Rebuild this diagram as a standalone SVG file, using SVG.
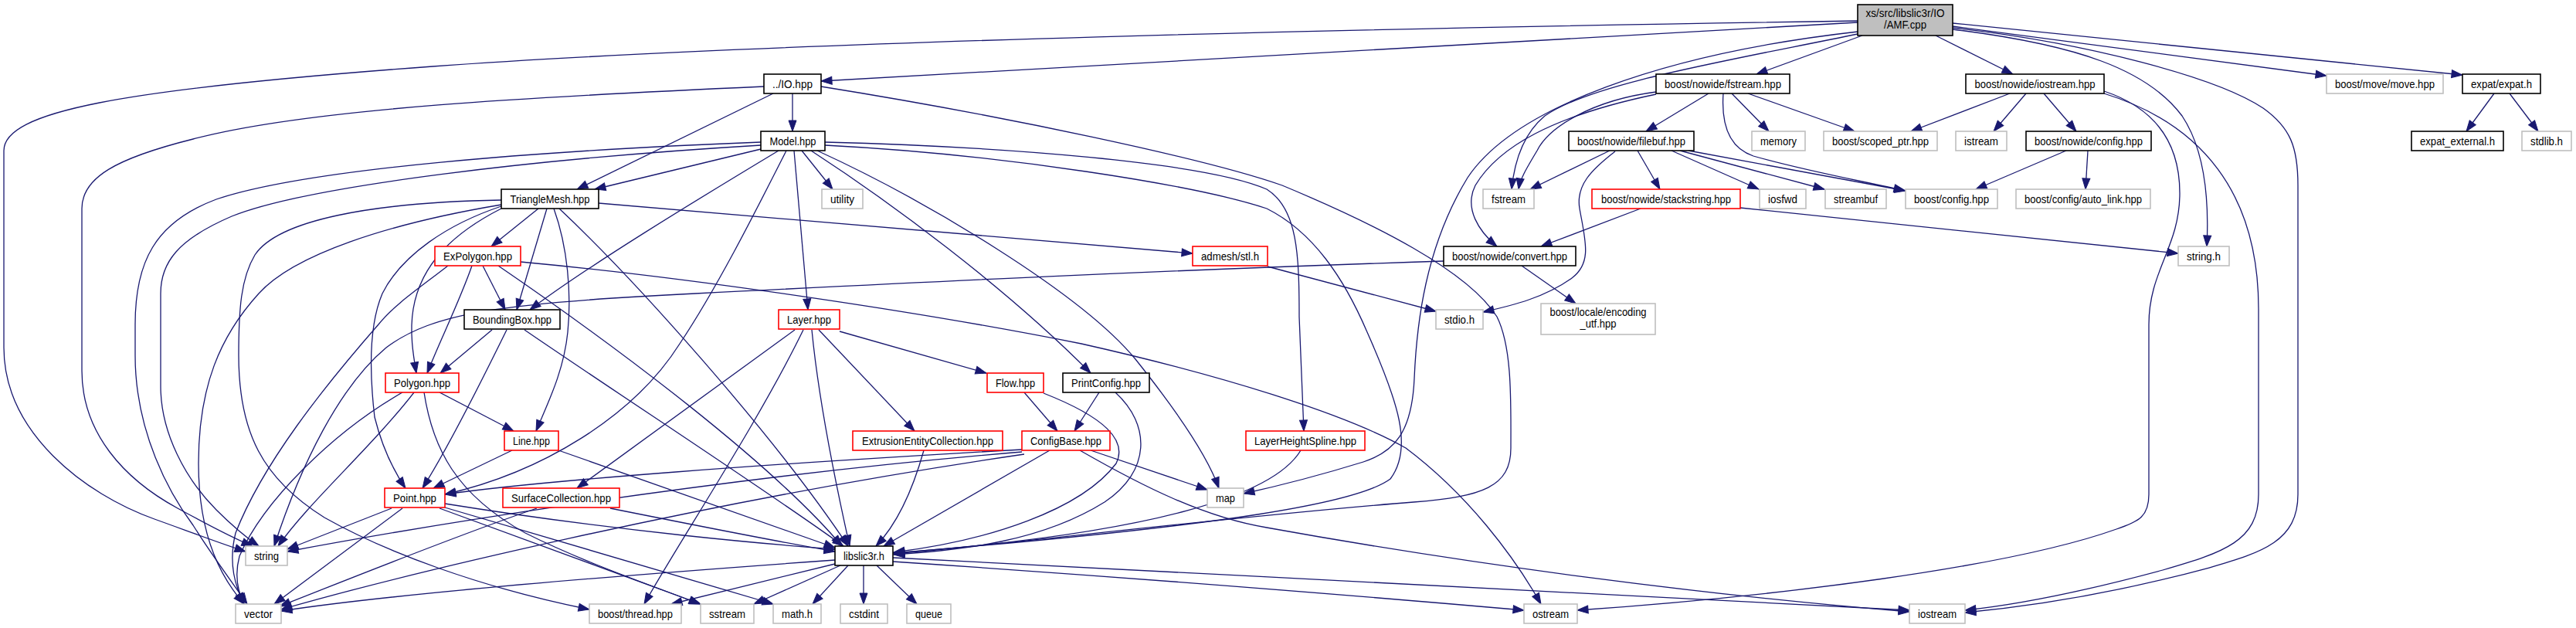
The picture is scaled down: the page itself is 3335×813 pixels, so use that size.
<svg xmlns="http://www.w3.org/2000/svg" width="3335" height="813" viewBox="0 0 3335 813">
<style>
.n rect{fill:#fff;stroke-width:1.6}
.b rect{stroke:#000}
.r rect{stroke:#ff0000}
.g rect{stroke:#bfbfbf}
.root rect{fill:#bfbfbf;stroke:#000}
text{font-family:"Liberation Sans",Arial,sans-serif;font-size:15px;text-anchor:middle;fill:#000}
#edges path{fill:none;stroke:#191970;stroke-width:1.3;marker-end:url(#a)}
</style>
<defs>
<marker id="a" markerUnits="userSpaceOnUse" markerWidth="14" markerHeight="10" refX="14" refY="5" orient="auto" overflow="visible"><path d="M0,0 L14,5 L0,10 z" fill="#191970" stroke="#191970" stroke-width="1"/></marker>
</defs>
<rect width="3335" height="813" fill="#fff"/>
<g id="edges">
<path d="M2405,29 L1063,105"/>
<path d="M2405,27 C1800,36 1000,54 560,86 C150,116 5,145 5,195 L5,450 C5,560 110,640 200,672 C250,690 290,705 318,714"/>
<path d="M2411,46 L2274,96"/>
<path d="M2506,46 L2606,96"/>
<path d="M2528,34 L3012,98"/>
<path d="M2528,30 L3188,97"/>
<path d="M2528,38 C2690,58 2780,90 2825,150 C2855,195 2860,260 2857,319"/>
<path d="M2528,36 C2700,55 2870,100 2930,140 C2965,165 2975,190 2975,240 L2975,640 C2975,700 2930,715 2860,735 C2760,762 2650,783 2544,793"/>
<path d="M2405,41 C2150,70 1960,140 1900,230 C1845,320 1834,420 1831,490 C1828,560 1805,585 1765,598 C1710,615 1660,628 1610,639"/>
<path d="M2405,44 C2230,80 2060,108 2000,150 C1970,175 1960,215 1957,245"/>
<path d="M1026,121 L1026,170"/>
<path d="M1001,121 L747,245"/>
<path d="M1063,112 C1300,150 1560,205 1660,240 C1780,290 1900,350 1938,410 C1958,450 1956,520 1956,580 C1956,630 1920,643 1830,650 C1600,668 1300,705 1157,717"/>
<path d="M989,112 C700,125 400,140 250,180 C150,205 106,230 106,270 L106,480 C106,560 160,620 230,658 C270,680 305,698 327,707"/>
<path d="M985,193 L770,245"/>
<path d="M985,184 C700,195 400,218 280,258 C200,288 175,340 175,420 L175,460 C175,560 220,640 250,680 C275,720 305,760 320,782"/>
<path d="M985,188 C700,205 400,240 300,280 C230,310 208,340 208,380 L208,500 C208,560 240,620 280,660 C305,685 322,698 335,707"/>
<path d="M1008,195 C900,260 760,345 686,401"/>
<path d="M1018,195 C980,270 930,370 880,445 C820,540 700,612 576,640"/>
<path d="M1028,195 L1046,401"/>
<path d="M1038,195 L1078,245"/>
<path d="M1050,195 C1150,260 1300,370 1412,483"/>
<path d="M1058,195 C1200,260 1400,380 1470,465 C1530,540 1565,595 1578,632"/>
<path d="M1068,184 C1300,190 1560,210 1640,245 C1680,270 1682,330 1682,410 L1688,558"/>
<path d="M1068,188 C1300,200 1550,240 1640,270 C1700,300 1740,360 1770,430 C1810,520 1830,580 1800,620 C1760,650 1600,680 1157,716"/>
<path d="M697,270 L636,319"/>
<path d="M708,270 L669,401"/>
<path d="M717,270 C735,320 740,380 735,430 C730,480 710,520 694,558"/>
<path d="M724,270 C820,360 1000,560 1098,707"/>
<path d="M775,263 L1544,328"/>
<path d="M649,259 C480,262 360,285 330,330 C312,360 309,400 309,460 C309,560 340,620 420,670 C500,715 620,760 763,789"/>
<path d="M649,265 C500,290 380,330 335,380 C285,435 257,500 257,600 C257,700 290,752 316,782"/>
<path d="M649,267 C580,290 520,330 495,380 C478,420 478,480 485,540 C495,580 510,610 525,632"/>
<path d="M649,270 C590,300 545,340 535,400 C530,430 535,460 539,483"/>
<path d="M611,344 C595,390 570,440 553,483"/>
<path d="M625,344 L654,401"/>
<path d="M645,344 C800,450 1000,600 1090,707"/>
<path d="M580,344 C540,375 510,395 490,420 C420,500 340,600 305,690 C295,730 305,760 316,782"/>
<path d="M674,339 C900,360 1200,405 1400,445 C1600,490 1750,540 1820,580 C1900,640 1960,720 1995,782"/>
<path d="M637,427 L570,483"/>
<path d="M656,427 C630,480 580,580 547,632"/>
<path d="M679,427 C800,510 1000,640 1092,707"/>
<path d="M1029,427 L747,632"/>
<path d="M1040,427 C980,550 880,700 834,782"/>
<path d="M1051,427 C1060,520 1085,640 1100,707"/>
<path d="M1060,427 L1184,558"/>
<path d="M1087,429 L1277,483"/>
<path d="M1326,508 L1369,558"/>
<path d="M1351,509 C1430,540 1460,570 1445,600 C1400,660 1280,700 1157,715"/>
<path d="M1423,508 L1391,558"/>
<path d="M1444,508 C1490,550 1490,610 1430,650 C1350,700 1250,712 1157,718"/>
<path d="M1196,583 C1180,640 1160,680 1134,707"/>
<path d="M1359,583 L1144,707"/>
<path d="M1412,583 L1563,634"/>
<path d="M1323,582 C1000,600 700,622 576,640"/>
<path d="M1323,585 C900,620 500,690 372,714"/>
<path d="M1326,588 C900,650 500,750 364,789"/>
<path d="M1398,583 C1480,630 1560,670 1640,683 C1900,730 2200,770 2472,792"/>
<path d="M1684,583 C1650,640 1500,690 1157,716"/>
<path d="M790,658 C900,680 1000,700 1081,714"/>
<path d="M695,658 C600,690 450,750 362,785"/>
<path d="M569,508 L665,558"/>
<path d="M536,508 C480,580 400,650 360,707"/>
<path d="M521,508 C430,560 340,650 310,720 C302,750 310,770 316,782"/>
<path d="M549,508 C560,580 590,640 680,690 C760,730 850,760 906,782"/>
<path d="M663,583 L561,632"/>
<path d="M723,583 L1081,709"/>
<path d="M576,652 C800,688 1000,705 1081,711"/>
<path d="M576,657 L1001,782"/>
<path d="M569,658 L907,782"/>
<path d="M507,658 L372,711"/>
<path d="M521,658 L355,782"/>
<path d="M1081,725 C800,745 500,770 364,791"/>
<path d="M1081,730 L869,782"/>
<path d="M1088,732 L976,782"/>
<path d="M1098,732 L1052,782"/>
<path d="M1118,732 L1118,782"/>
<path d="M1135,732 L1187,782"/>
<path d="M1156,722 C1600,745 2200,775 2472,790"/>
<path d="M1156,727 C1500,750 1800,775 1973,790"/>
<path d="M2212,121 L2131,170"/>
<path d="M2242,121 L2290,170"/>
<path d="M2263,121 L2401,170"/>
<path d="M2231,121 C2228,165 2240,192 2270,202 C2340,222 2420,236 2466,247"/>
<path d="M2144,119 C2060,130 2005,165 1990,195 C1975,220 1968,232 1966,245"/>
<path d="M2144,122 C2010,150 1940,190 1910,240 C1895,270 1915,300 1938,319"/>
<path d="M2084,195 L1981,245"/>
<path d="M2120,195 L2149,245"/>
<path d="M2091,196 C2060,220 2040,240 2045,270 C2052,310 2062,340 2035,360 C2000,385 1960,395 1920,404"/>
<path d="M2164,195 L2277,245"/>
<path d="M2175,195 L2362,245"/>
<path d="M2186,195 L2467,247"/>
<path d="M2124,270 L1995,319"/>
<path d="M2253,269 L2820,328"/>
<path d="M1970,344 L2040,393"/>
<path d="M1869,338 C1500,350 1200,365 900,380 C650,392 560,405 500,450 C440,500 390,600 355,707"/>
<path d="M1641,345 L1859,403"/>
<path d="M2602,121 L2474,170"/>
<path d="M2623,121 L2581,170"/>
<path d="M2646,121 L2688,170"/>
<path d="M2724,118 C2790,140 2822,185 2822,250 C2822,320 2782,350 2782,420 L2782,640 C2782,668 2770,675 2740,685 C2600,735 2300,772 2042,790"/>
<path d="M2724,121 C2850,160 2924,250 2924,400 L2924,640 C2924,700 2880,715 2800,738 C2700,765 2620,782 2544,790"/>
<path d="M2675,195 L2558,245"/>
<path d="M2703,195 L2700,245"/>
<path d="M3229,121 L3193,170"/>
<path d="M3249,121 L3286,170"/>
</g>
<g id="n_amf" class="n root"><rect x="2405" y="6" width="123" height="40"/><text x="2466.5" y="22" textLength="102" lengthAdjust="spacingAndGlyphs">xs/src/libslic3r/IO</text><text x="2466.5" y="37" textLength="55" lengthAdjust="spacingAndGlyphs">/AMF.cpp</text></g>
<g id="n_io" class="n b"><rect x="989" y="96" width="74" height="25"/><text x="1026" y="113.5" textLength="52" lengthAdjust="spacingAndGlyphs">../IO.hpp</text></g>
<g id="n_nfstream" class="n b"><rect x="2144" y="96" width="173" height="25"/><text x="2230.5" y="113.5" textLength="151" lengthAdjust="spacingAndGlyphs">boost/nowide/fstream.hpp</text></g>
<g id="n_niostream" class="n b"><rect x="2545" y="96" width="179" height="25"/><text x="2634.5" y="113.5" textLength="156" lengthAdjust="spacingAndGlyphs">boost/nowide/iostream.hpp</text></g>
<g id="n_move" class="n g"><rect x="3012" y="96" width="151" height="25"/><text x="3087.5" y="113.5" textLength="129" lengthAdjust="spacingAndGlyphs">boost/move/move.hpp</text></g>
<g id="n_expat" class="n b"><rect x="3188" y="96" width="101" height="25"/><text x="3238.5" y="113.5" textLength="79" lengthAdjust="spacingAndGlyphs">expat/expat.h</text></g>
<g id="n_model" class="n b"><rect x="985" y="170" width="83" height="25"/><text x="1026.5" y="187.5" textLength="60" lengthAdjust="spacingAndGlyphs">Model.hpp</text></g>
<g id="n_filebuf" class="n b"><rect x="2031" y="170" width="162" height="25"/><text x="2112" y="187.5" textLength="140" lengthAdjust="spacingAndGlyphs">boost/nowide/filebuf.hpp</text></g>
<g id="n_memory" class="n g"><rect x="2268" y="170" width="69" height="25"/><text x="2302.5" y="187.5" textLength="47" lengthAdjust="spacingAndGlyphs">memory</text></g>
<g id="n_scoped" class="n g"><rect x="2361" y="170" width="147" height="25"/><text x="2434.5" y="187.5" textLength="125" lengthAdjust="spacingAndGlyphs">boost/scoped_ptr.hpp</text></g>
<g id="n_istream" class="n g"><rect x="2532" y="170" width="66" height="25"/><text x="2565" y="187.5" textLength="44" lengthAdjust="spacingAndGlyphs">istream</text></g>
<g id="n_nconfig" class="n b"><rect x="2623" y="170" width="162" height="25"/><text x="2704" y="187.5" textLength="140" lengthAdjust="spacingAndGlyphs">boost/nowide/config.hpp</text></g>
<g id="n_expatext" class="n b"><rect x="3122" y="170" width="119" height="25"/><text x="3181.5" y="187.5" textLength="97" lengthAdjust="spacingAndGlyphs">expat_external.h</text></g>
<g id="n_stdlib" class="n g"><rect x="3265" y="170" width="64" height="25"/><text x="3297" y="187.5" textLength="42" lengthAdjust="spacingAndGlyphs">stdlib.h</text></g>
<g id="n_tm" class="n b"><rect x="649" y="245" width="126" height="25"/><text x="712" y="262.5" textLength="103" lengthAdjust="spacingAndGlyphs">TriangleMesh.hpp</text></g>
<g id="n_utility" class="n g"><rect x="1064" y="245" width="53" height="25"/><text x="1090.5" y="262.5" textLength="31" lengthAdjust="spacingAndGlyphs">utility</text></g>
<g id="n_fstream" class="n g"><rect x="1920" y="245" width="66" height="25"/><text x="1953" y="262.5" textLength="44" lengthAdjust="spacingAndGlyphs">fstream</text></g>
<g id="n_stackstring" class="n r"><rect x="2061" y="245" width="192" height="25"/><text x="2157" y="262.5" textLength="168" lengthAdjust="spacingAndGlyphs">boost/nowide/stackstring.hpp</text></g>
<g id="n_iosfwd" class="n g"><rect x="2278" y="245" width="60" height="25"/><text x="2308" y="262.5" textLength="38" lengthAdjust="spacingAndGlyphs">iosfwd</text></g>
<g id="n_streambuf" class="n g"><rect x="2363" y="245" width="79" height="25"/><text x="2402.5" y="262.5" textLength="57" lengthAdjust="spacingAndGlyphs">streambuf</text></g>
<g id="n_bconfig" class="n g"><rect x="2467" y="245" width="119" height="25"/><text x="2526.5" y="262.5" textLength="97" lengthAdjust="spacingAndGlyphs">boost/config.hpp</text></g>
<g id="n_autolink" class="n g"><rect x="2610" y="245" width="174" height="25"/><text x="2697" y="262.5" textLength="152" lengthAdjust="spacingAndGlyphs">boost/config/auto_link.hpp</text></g>
<g id="n_expolygon" class="n r"><rect x="563" y="319" width="111" height="25"/><text x="618.5" y="336.5" textLength="89" lengthAdjust="spacingAndGlyphs">ExPolygon.hpp</text></g>
<g id="n_admesh" class="n r"><rect x="1544" y="319" width="97" height="25"/><text x="1592.5" y="336.5" textLength="75" lengthAdjust="spacingAndGlyphs">admesh/stl.h</text></g>
<g id="n_convert" class="n b"><rect x="1869" y="319" width="171" height="25"/><text x="1954.5" y="336.5" textLength="149" lengthAdjust="spacingAndGlyphs">boost/nowide/convert.hpp</text></g>
<g id="n_stringh" class="n g"><rect x="2820" y="319" width="66" height="25"/><text x="2853" y="336.5" textLength="44" lengthAdjust="spacingAndGlyphs">string.h</text></g>
<g id="n_bbox" class="n b"><rect x="601" y="401" width="124" height="25"/><text x="663" y="418.5" textLength="102" lengthAdjust="spacingAndGlyphs">BoundingBox.hpp</text></g>
<g id="n_layer" class="n r"><rect x="1008" y="401" width="79" height="25"/><text x="1047.5" y="418.5" textLength="57" lengthAdjust="spacingAndGlyphs">Layer.hpp</text></g>
<g id="n_stdio" class="n g"><rect x="1859" y="401" width="61" height="25"/><text x="1889.5" y="418.5" textLength="39" lengthAdjust="spacingAndGlyphs">stdio.h</text></g>
<g id="n_encoding" class="n g"><rect x="1995" y="393" width="148" height="40"/><text x="2069" y="409" textLength="125" lengthAdjust="spacingAndGlyphs">boost/locale/encoding</text><text x="2069" y="424" textLength="47" lengthAdjust="spacingAndGlyphs">_utf.hpp</text></g>
<g id="n_polygon" class="n r"><rect x="499" y="483" width="95" height="25"/><text x="546.5" y="500.5" textLength="73" lengthAdjust="spacingAndGlyphs">Polygon.hpp</text></g>
<g id="n_flow" class="n r"><rect x="1278" y="483" width="73" height="25"/><text x="1314.5" y="500.5" textLength="51" lengthAdjust="spacingAndGlyphs">Flow.hpp</text></g>
<g id="n_printconfig" class="n b"><rect x="1376" y="483" width="112" height="25"/><text x="1432" y="500.5" textLength="90" lengthAdjust="spacingAndGlyphs">PrintConfig.hpp</text></g>
<g id="n_line" class="n r"><rect x="653" y="558" width="70" height="25"/><text x="688" y="575.5" textLength="48" lengthAdjust="spacingAndGlyphs">Line.hpp</text></g>
<g id="n_eec" class="n r"><rect x="1104" y="558" width="194" height="25"/><text x="1201" y="575.5" textLength="170" lengthAdjust="spacingAndGlyphs">ExtrusionEntityCollection.hpp</text></g>
<g id="n_configbase" class="n r"><rect x="1323" y="558" width="114" height="25"/><text x="1380" y="575.5" textLength="92" lengthAdjust="spacingAndGlyphs">ConfigBase.hpp</text></g>
<g id="n_lhs" class="n r"><rect x="1613" y="558" width="154" height="25"/><text x="1690" y="575.5" textLength="132" lengthAdjust="spacingAndGlyphs">LayerHeightSpline.hpp</text></g>
<g id="n_point" class="n r"><rect x="498" y="632" width="78" height="25"/><text x="537" y="649.5" textLength="56" lengthAdjust="spacingAndGlyphs">Point.hpp</text></g>
<g id="n_surface" class="n r"><rect x="651" y="632" width="151" height="25"/><text x="726.5" y="649.5" textLength="129" lengthAdjust="spacingAndGlyphs">SurfaceCollection.hpp</text></g>
<g id="n_map" class="n g"><rect x="1563" y="632" width="47" height="25"/><text x="1586.5" y="649.5" textLength="25" lengthAdjust="spacingAndGlyphs">map</text></g>
<g id="n_string" class="n g"><rect x="318" y="707" width="54" height="25"/><text x="345" y="724.5" textLength="32" lengthAdjust="spacingAndGlyphs">string</text></g>
<g id="n_libslic3r" class="n b"><rect x="1081" y="707" width="75" height="25"/><text x="1118.5" y="724.5" textLength="53" lengthAdjust="spacingAndGlyphs">libslic3r.h</text></g>
<g id="n_vector" class="n g"><rect x="305" y="782" width="59" height="25"/><text x="334.5" y="799.5" textLength="37" lengthAdjust="spacingAndGlyphs">vector</text></g>
<g id="n_thread" class="n g"><rect x="763" y="782" width="119" height="25"/><text x="822.5" y="799.5" textLength="97" lengthAdjust="spacingAndGlyphs">boost/thread.hpp</text></g>
<g id="n_sstream" class="n g"><rect x="907" y="782" width="69" height="25"/><text x="941.5" y="799.5" textLength="47" lengthAdjust="spacingAndGlyphs">sstream</text></g>
<g id="n_math" class="n g"><rect x="1001" y="782" width="62" height="25"/><text x="1032" y="799.5" textLength="40" lengthAdjust="spacingAndGlyphs">math.h</text></g>
<g id="n_cstdint" class="n g"><rect x="1088" y="782" width="61" height="25"/><text x="1118.5" y="799.5" textLength="39" lengthAdjust="spacingAndGlyphs">cstdint</text></g>
<g id="n_queue" class="n g"><rect x="1174" y="782" width="57" height="25"/><text x="1202.5" y="799.5" textLength="35" lengthAdjust="spacingAndGlyphs">queue</text></g>
<g id="n_ostream" class="n g"><rect x="1973" y="782" width="69" height="25"/><text x="2007.5" y="799.5" textLength="47" lengthAdjust="spacingAndGlyphs">ostream</text></g>
<g id="n_iostream" class="n g"><rect x="2472" y="782" width="72" height="25"/><text x="2508" y="799.5" textLength="50" lengthAdjust="spacingAndGlyphs">iostream</text></g>
</svg>
